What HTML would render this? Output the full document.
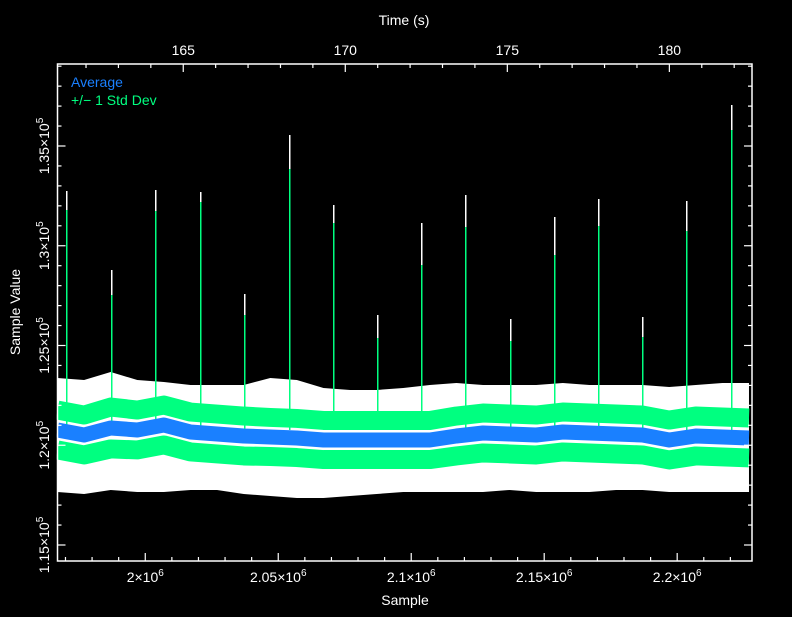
<!DOCTYPE html>
<html><head><meta charset="utf-8"><style>
html,body{margin:0;padding:0;background:#000;}
svg{display:block;}
text{font-family:"Liberation Sans",sans-serif;fill:#fff;}
</style></head><body>
<svg id="chart" width="792" height="617" viewBox="0 0 792 617" xmlns="http://www.w3.org/2000/svg">
<rect x="0" y="0" width="792" height="617" fill="#000"/>
<g id="plot"></g>
<g id="axes"></g>
<text x="71" y="87" font-size="14" style="fill:#1a80ff">Average</text>
<text x="71" y="105" font-size="14" style="fill:#00ff80">+/− 1 Std Dev</text>
<text x="404" y="25" font-size="14" text-anchor="middle">Time (s)</text>
<text x="405" y="605" font-size="14" text-anchor="middle">Sample</text>
<text transform="translate(20,312) rotate(-90)" font-size="14" text-anchor="middle">Sample Value</text>
</svg>
<script>
// ---- data ----
const knotSamples = [1967000,1977000,1987000,1997000,2007000,2017000,2027000,2037000,2047000,2057000,2067000,2077000,2087000,2097000,2107000,2117000,2127000,2137000,2147000,2157000,2167000,2177000,2187000,2197000,2207000,2217000,2227000];
const meanValues = [120765,120514,120865,120765,121015,120664,120564,120464,120414,120364,120263,120263,120263,120263,120263,120464,120614,120564,120514,120664,120614,120564,120514,120263,120464,120414,120364];
const stdValues = [1000,1000,1050,1000,1000,1000,1000,1000,980,980,980,980,980,980,980,1000,1000,1000,1000,1000,1000,1000,1000,1000,1000,1000,1000];
const maxValues = [123371,123271,123672,123271,123171,123020,123020,123020,123371,123271,122870,122770,122770,122870,123020,123120,123020,123020,123020,123120,123020,123020,123020,122920,123020,123120,123120];
const minValues = [117657,117557,117757,117657,117657,117757,117757,117557,117456,117356,117356,117456,117557,117657,117657,117657,117657,117757,117657,117657,117657,117757,117757,117657,117657,117657,117657];
const spikeSamples = [1970200,1987100,2003700,2020600,2037100,2054000,2070600,2087200,2103700,2120300,2137200,2153700,2170300,2186800,2203400,2220300];
const spikeMax = [132744,128784,132794,132694,127581,135551,132043,126529,131140,132544,126328,131441,132343,126429,132243,137055];
const spikeStd = [131792,127531,131742,132193,126529,133847,131140,125376,129035,130940,125226,129536,130990,125426,130739,135802];
const xTicks = [2000000,2050000,2100000,2150000,2200000];
const xTickLabels = ["2","2.05","2.1","2.15","2.2"];
const yTicks = [115000,120000,125000,130000,135000];
const yTickLabels = ["1.15","1.2","1.25","1.3","1.35"];
const timeTicks = [165,170,175,180];
const timeTickLabels = ["165","170","175","180"];

// ---- axes functions ----
const L=57.5,R=752,T=64,B=561;
const xMin=1967000,xMax=2228132,yMin=114198,yMax=139110,tMin=161.12,tMax=182.55;
const xs=s=>L+(s-xMin)/(xMax-xMin)*(R-L);
const ys=v=>B-(v-yMin)/(yMax-yMin)*(B-T);
const ts=t=>L+(t-tMin)/(tMax-tMin)*(R-L);
const NS="http://www.w3.org/2000/svg";
const plot=document.getElementById('plot'), axes=document.getElementById('axes');
function mk(tag,attrs,parent){const e=document.createElementNS(NS,tag);for(const k in attrs)e.setAttribute(k,attrs[k]);parent.appendChild(e);return e;}

// white envelope
let pts=knotSamples.map((s,i)=>xs(s)+','+ys(maxValues[i]));
for(let i=knotSamples.length-1;i>=0;i--)pts.push(xs(knotSamples[i])+','+ys(minValues[i]));
const env=mk('polygon',{points:pts.join(' '),fill:'#fff'},plot);


// spikes
spikeSamples.forEach((s,i)=>{
  const x=Math.round(xs(s))+0.5;
  const w=mk('line',{x1:x,x2:x,y1:ys(spikeMax[i]),y2:ys(meanValues[0]),stroke:'#fff','stroke-width':1.5,'shape-rendering':'crispEdges'},plot);
  
  
});
// std bands
function band(sign,name){
  const p=knotSamples.map((s,i)=>xs(s)+','+ys(meanValues[i]+sign*stdValues[i])).join(' ');
  const e=mk('polyline',{points:p,fill:'none',stroke:'#00ff80','stroke-width':19,'stroke-linejoin':'round'},plot);
  
  
}
band(1,'std-upper-band');band(-1,'std-lower-band');
spikeSamples.forEach((s,i)=>{
  const x=Math.round(xs(s))+0.5;
  const g=mk('line',{x1:x,x2:x,y1:ys(spikeStd[i]),y2:ys(meanValues[0]),stroke:'#00ff80','stroke-width':1.5,'shape-rendering':'crispEdges'},plot);
  
  
});
// mean
const mp=knotSamples.map((s,i)=>xs(s)+','+ys(meanValues[i])).join(' ');
const meanLine=mk('polyline',{points:mp,fill:'none',stroke:'#1a80ff','stroke-width':15,'stroke-linejoin':'round'},plot);



// mask outside frame
mk('rect',{x:R+0.75,y:0,width:792-R,height:617,fill:'#000'},plot);
mk('rect',{x:0,y:0,width:L-0.75,height:617,fill:'#000'},plot);

// frame
const fr=mk('rect',{x:L,y:T,width:R-L,height:B-T,fill:'none',stroke:'#fff','stroke-width':1.5},axes);


// x ticks
for(let s=1970000;s<=xMax;s+=10000){
  const maj=s%50000===0, len=maj?8:4;
  mk('line',{x1:xs(s),x2:xs(s),y1:B,y2:B-len,stroke:'#fff','stroke-width':1.2},axes);
}
xTicks.forEach((s,i)=>{
  const t=mk('text',{x:xs(s),y:582,'font-size':14,'text-anchor':'middle'},axes);
  
  
  t.textContent=xTickLabels[i]+'×10';
  const sup=mk('tspan',{dy:-6,'font-size':10},t);sup.textContent='6';
});
// y ticks
for(let v=115000;v<=yMax;v+=1000){
  const maj=v%5000===0, len=maj?8:4;
  mk('line',{x1:L,x2:L+len,y1:ys(v),y2:ys(v),stroke:'#fff','stroke-width':1.2},axes);
  mk('line',{x1:R,x2:R-len,y1:ys(v),y2:ys(v),stroke:'#fff','stroke-width':1.2},axes);
}
yTicks.forEach((v,i)=>{
  const t=mk('text',{transform:`translate(49,${ys(v)}) rotate(-90)`,'font-size':14,'text-anchor':'middle'},axes);
  
  
  t.textContent=yTickLabels[i]+'×10';
  const sup=mk('tspan',{dy:-6,'font-size':10},t);sup.textContent='5';
});
// top time axis
for(let t=162;t<=tMax;t+=1){
  const maj=t%5===0,len=maj?8:4;
  mk('line',{x1:ts(t),x2:ts(t),y1:T,y2:T+len,stroke:'#fff','stroke-width':1.2},axes);
}
timeTicks.forEach((t,i)=>{
  const e=mk('text',{x:ts(t),y:55,'font-size':14,'text-anchor':'middle'},axes);
  
  
  e.textContent=timeTickLabels[i];
});
</script>
</body></html>
